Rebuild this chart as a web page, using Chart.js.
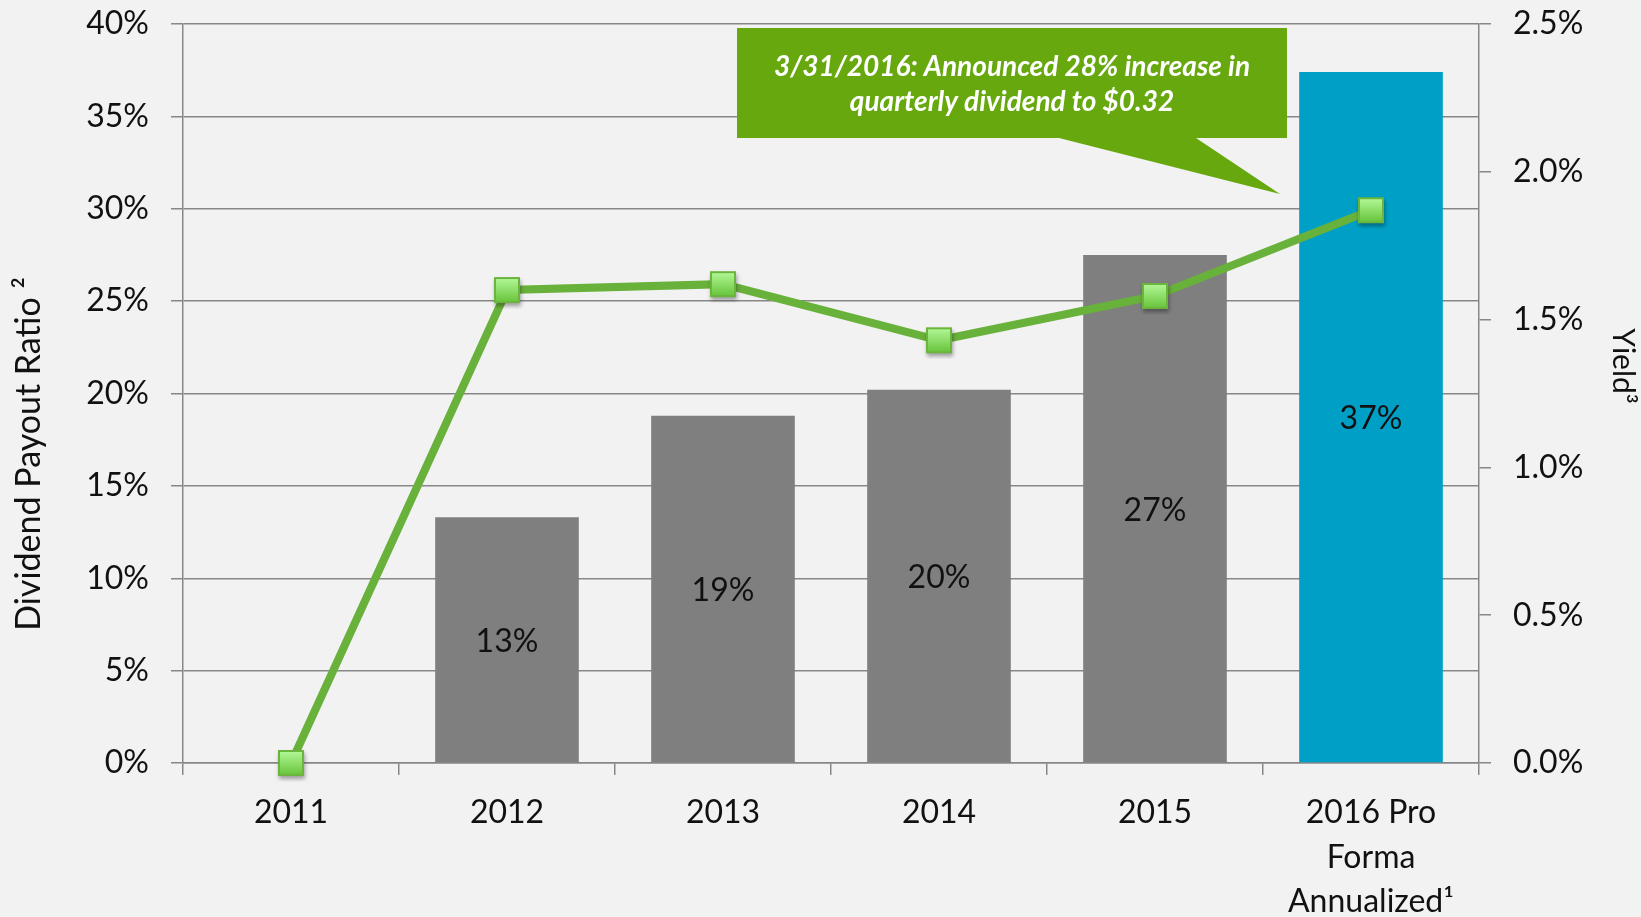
<!DOCTYPE html>
<html>
<head>
<meta charset="utf-8">
<title>Dividend Payout Ratio and Yield</title>
<script src="https://cdn.jsdelivr.net/npm/chart.js@4.4.1/dist/chart.umd.min.js"></script>
<style>
  html, body { margin: 0; padding: 0; background: #f2f2f2; }
  #wrap { width: 1641px; height: 917px; }
</style>
</head>
<body>
<div id="wrap"><canvas id="payoutChart" width="1641" height="917"></canvas></div>
<script>
// Data
const categories = ['2011', '2012', '2013', '2014', '2015', ['2016 Pro', 'Forma', 'Annualized\u00B9']];
const payoutRatio = [0, 13.3, 18.8, 20.2, 27.5, 37.4];   // % (left axis)
const payoutLabels = ['', '13%', '19%', '20%', '27%', '37%'];
const yieldPct = [0, 1.60, 1.62, 1.43, 1.58, 1.87];      // % (right axis)
const barColors = ['#7f7f7f', '#7f7f7f', '#7f7f7f', '#7f7f7f', '#7f7f7f', '#00a0c6'];

const FONT = 'Lato, "Open Sans", sans-serif';
const GRID = '#878787';
const CALLOUT_TEXT = ['3/31/2016: Announced 28% increase in', 'quarterly dividend to $0.32'];

// square marker with a light-to-dark green gradient and a soft shadow
function makeMarker() {
  const size = 26, pad = 6;
  const c = document.createElement('canvas');
  c.width = c.height = size + pad * 2;
  const g = c.getContext('2d');
  g.save();
  g.shadowColor = 'rgba(0,0,0,0.35)';
  g.shadowBlur = 4;
  g.shadowOffsetX = 1;
  g.shadowOffsetY = 3;
  const grad = g.createLinearGradient(0, pad, 0, pad + size);
  grad.addColorStop(0, '#b6fa9c');
  grad.addColorStop(1, '#64c236');
  g.fillStyle = grad;
  g.fillRect(pad, pad, size, size);
  g.restore();
  g.strokeStyle = '#6bb43d';
  g.lineWidth = 2;
  g.strokeRect(pad + 1, pad + 1, size - 2, size - 2);
  return c;
}

// y axes: fixed width, and no extra room reserved for the end labels
function fixWidth(w) {
  return s => { s.width = w; s.paddingTop = 0; s.paddingBottom = 0; };
}

const barLabelPlugin = {
  id: 'barLabels',
  afterDatasetsDraw(chart) {
    const meta = chart.getDatasetMeta(1);
    const ctx = chart.ctx;
    ctx.save();
    ctx.font = '32px ' + FONT;
    ctx.fillStyle = '#111';
    ctx.textAlign = 'center';
    ctx.textBaseline = 'middle';
    meta.data.forEach((bar, i) => {
      if (!payoutLabels[i]) return;
      ctx.fillText(payoutLabels[i], bar.x, (bar.y + bar.base) / 2 + 2);
    });
    ctx.restore();
  }
};

const axisTitlePlugin = {
  id: 'axisTitles',
  afterDraw(chart) {
    const ctx = chart.ctx;
    const ca = chart.chartArea;
    ctx.save();
    ctx.fillStyle = '#111';
    ctx.textAlign = 'center';
    ctx.textBaseline = 'middle';
    ctx.font = '34px ' + FONT;
    ctx.translate(chart.scales.y.left + 29, ca.top + 430);
    ctx.rotate(-Math.PI / 2);
    ctx.fillText('Dividend Payout Ratio \u00B2', 0, 0);
    ctx.restore();

    ctx.save();
    ctx.fillStyle = '#111';
    ctx.textAlign = 'center';
    ctx.textBaseline = 'middle';
    ctx.font = '30px ' + FONT;
    ctx.translate(chart.scales.y2.right - 18, ca.top + 342);
    ctx.rotate(Math.PI / 2);
    ctx.fillText('Yield\u00B3', 0, 0);
    ctx.restore();
  }
};

const calloutPlugin = {
  id: 'callout',
  afterDraw(chart) {
    const ctx = chart.ctx;
    const left = 737, top = 28, right = 1287, bottom = 138;
    ctx.save();
    ctx.fillStyle = '#66a80e';
    ctx.beginPath();
    ctx.moveTo(left, top);
    ctx.lineTo(right, top);
    ctx.lineTo(right, bottom);
    ctx.lineTo(1196, bottom);
    ctx.lineTo(1280, 194);
    ctx.lineTo(1059, bottom);
    ctx.lineTo(left, bottom);
    ctx.closePath();
    ctx.fill();
    ctx.fillStyle = '#fff';
    ctx.font = 'italic bold 28px ' + FONT;
    ctx.textAlign = 'center';
    ctx.textBaseline = 'middle';
    ctx.fillText(CALLOUT_TEXT[0], (left + right) / 2, 67);
    ctx.fillText(CALLOUT_TEXT[1], (left + right) / 2, 102);
    ctx.restore();
  }
};

const tickFont = { family: FONT, size: 32 };

new Chart(document.getElementById('payoutChart'), {
  data: {
    labels: categories,
    datasets: [
      {
        type: 'line',
        label: 'Yield',
        data: yieldPct,
        yAxisID: 'y2',
        borderColor: '#68b13a',
        borderWidth: 8,
        pointStyle: makeMarker(),
        pointRadius: 13,
        tension: 0,
        clip: false,
        order: 0
      },
      {
        type: 'bar',
        label: 'Dividend Payout Ratio',
        data: payoutRatio,
        yAxisID: 'y',
        backgroundColor: barColors,
        categoryPercentage: 1,
        barPercentage: 0.665,
        order: 1
      }
    ]
  },
  options: {
    responsive: false,
    animation: false,
    layout: { padding: { top: 24, left: 0, right: 0, bottom: 0 } },
    plugins: { legend: { display: false }, tooltip: { enabled: false } },
    scales: {
      x: {
        grid: { offset: true, drawOnChartArea: false, drawTicks: true, tickLength: 12, color: GRID, lineWidth: 1.5 },
        border: { color: GRID, width: 1.5 },
        ticks: { font: { ...tickFont, lineHeight: 1.4 }, color: '#111', padding: 15, maxRotation: 0, autoSkip: false },
        afterFit: s => { s.height = 154; }
      },
      y: {
        position: 'left',
        min: 0,
        max: 40,
        grid: { color: GRID, lineWidth: 1.5, tickLength: 12 },
        border: { color: GRID, width: 1.5 },
        ticks: { stepSize: 5, font: tickFont, color: '#111', padding: 22, callback: v => v + '%' },
        afterFit: fixWidth(183)
      },
      y2: {
        position: 'right',
        min: 0,
        max: 2.5,
        grid: { drawOnChartArea: false, color: GRID, lineWidth: 1.5, tickLength: 12 },
        border: { color: GRID, width: 1.5 },
        ticks: { stepSize: 0.5, font: tickFont, color: '#111', padding: 22, callback: v => v.toFixed(1) + '%' },
        afterFit: fixWidth(162)
      }
    }
  },
  plugins: [barLabelPlugin, axisTitlePlugin, calloutPlugin]
});
</script>
</body>
</html>
